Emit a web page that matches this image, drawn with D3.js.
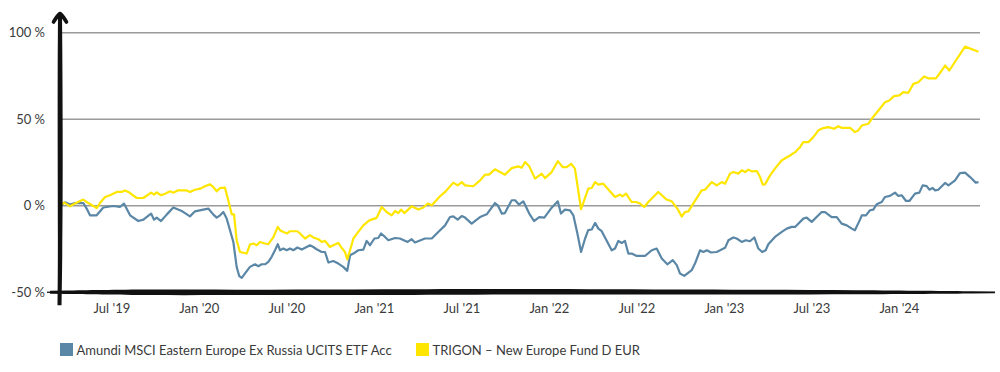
<!DOCTYPE html>
<html>
<head>
<meta charset="utf-8">
<script src="https://cdn.jsdelivr.net/npm/d3@7"></script>
<style>
  html, body { margin: 0; padding: 0; background: #fff; }
  svg { display: block; font-family: Lato, "Open Sans", sans-serif; }
</style>
</head>
<body>
<svg id="chart" width="1000" height="372"></svg>
<script>
// ---- data (time in decimal years, values in %) ----
const seriesNames = ["Amundi MSCI Eastern Europe Ex Russia UCITS ETF Acc", "TRIGON – New Europe Fund D EUR"];
const seriesColors = ["#5b87a7", "#ffe600"];

const yTickValues = [-50, 0, 50, 100];
const yTickLabels = ["-50 %", "0 %", "50 %", "100 %"];
const xTickValues = [2019.5, 2020, 2020.5, 2021, 2021.5, 2022, 2022.5, 2023, 2023.5, 2024];
const xTickLabels = ["Jul '19", "Jan '20", "Jul '20", "Jan '21", "Jul '21", "Jan '22", "Jul '22", "Jan '23", "Jul '23", "Jan '24"];

const blueTimes = [2019.215,2019.232,2019.261,2019.289,2019.337,2019.356,2019.375,2019.413,2019.451,2019.508,2019.546,2019.569,2019.604,2019.651,2019.680,2019.724,2019.741,2019.756,2019.781,2019.813,2019.851,2019.899,2019.918,2019.946,2019.975,2020.022,2020.051,2020.080,2020.099,2020.118,2020.137,2020.156,2020.175,2020.194,2020.213,2020.228,2020.242,2020.261,2020.289,2020.318,2020.337,2020.356,2020.375,2020.394,2020.413,2020.432,2020.448,2020.461,2020.480,2020.499,2020.518,2020.537,2020.560,2020.585,2020.613,2020.632,2020.651,2020.670,2020.699,2020.718,2020.737,2020.765,2020.794,2020.822,2020.845,2020.861,2020.880,2020.908,2020.937,2020.956,2020.975,2021.000,2021.022,2021.038,2021.061,2021.080,2021.118,2021.146,2021.190,2021.213,2021.232,2021.289,2021.328,2021.365,2021.404,2021.432,2021.451,2021.476,2021.499,2021.518,2021.556,2021.585,2021.604,2021.642,2021.666,2021.689,2021.705,2021.728,2021.746,2021.769,2021.785,2021.804,2021.826,2021.851,2021.885,2021.912,2021.942,2021.971,2022.009,2022.048,2022.066,2022.089,2022.118,2022.137,2022.160,2022.181,2022.204,2022.222,2022.242,2022.261,2022.280,2022.299,2022.356,2022.375,2022.394,2022.413,2022.432,2022.451,2022.470,2022.499,2022.546,2022.585,2022.613,2022.642,2022.674,2022.705,2022.728,2022.746,2022.771,2022.813,2022.832,2022.861,2022.880,2022.899,2022.924,2022.956,2023.004,2023.023,2023.051,2023.070,2023.099,2023.122,2023.146,2023.171,2023.194,2023.216,2023.236,2023.251,2023.289,2023.328,2023.356,2023.385,2023.404,2023.451,2023.470,2023.499,2023.556,2023.575,2023.613,2023.642,2023.670,2023.699,2023.728,2023.746,2023.775,2023.785,2023.809,2023.832,2023.851,2023.870,2023.899,2023.918,2023.946,2023.975,2023.994,2024.013,2024.038,2024.057,2024.089,2024.114,2024.133,2024.156,2024.171,2024.190,2024.204,2024.222,2024.261,2024.280,2024.318,2024.346,2024.375,2024.404,2024.436,2024.452];
const blueValues = [0.9,2.0,0.7,1.6,1.6,-1.6,-5.5,-5.5,-1.0,-0.1,-0.7,1.3,-5.5,-8.8,-8.0,-4.5,-8.0,-6.8,-8.8,-5.1,-1.0,-3.0,-4.2,-6.1,-3.2,-2.2,-1.6,-5.1,-6.8,-5.5,-3.6,-7.4,-14.1,-20.9,-35.3,-40.7,-41.7,-39.1,-35.3,-33.8,-34.9,-33.8,-33.8,-32.4,-29.5,-25.7,-22.2,-25.7,-24.7,-25.7,-24.7,-25.7,-24.1,-25.3,-23.8,-22.8,-23.8,-25.1,-26.7,-26.7,-32.8,-31.9,-33.4,-35.3,-37.6,-28.6,-27.6,-25.7,-25.3,-20.3,-22.8,-18.9,-18.6,-16.0,-18.0,-19.9,-18.6,-18.9,-20.9,-19.3,-21.2,-18.9,-18.9,-15.1,-11.3,-6.5,-6.1,-8.0,-5.9,-6.8,-10.3,-8.0,-6.5,-4.9,-1.6,1.6,0.3,-4.5,-4.2,0.3,3.2,3.2,0.7,2.6,-4.5,-8.8,-6.5,-6.8,-1.6,2.6,-4.5,-2.2,-2.6,-5.5,-16.0,-26.7,-18.9,-14.1,-13.7,-9.9,-13.2,-14.7,-25.7,-24.7,-20.3,-21.5,-20.3,-27.6,-27.6,-29.0,-29.0,-25.7,-24.7,-30.5,-33.8,-31.4,-34.3,-39.1,-40.5,-37.2,-33.4,-25.7,-26.7,-25.7,-27.0,-26.7,-24.3,-19.9,-18.3,-18.9,-20.9,-19.9,-20.5,-18.3,-24.7,-26.7,-25.7,-22.2,-18.0,-15.1,-13.2,-12.2,-12.2,-7.4,-6.8,-9.3,-3.6,-3.6,-6.5,-6.5,-10.3,-11.3,-13.2,-14.1,-8.0,-5.5,-5.5,-2.6,-2.2,0.9,2.2,5.1,5.7,7.6,5.7,6.1,2.8,2.8,7.0,7.6,11.8,11.4,9.3,10.3,8.9,9.3,13.2,11.8,14.7,18.9,19.2,16.6,13.4,13.7];

const yellowTimes = [2019.215,2019.228,2019.261,2019.289,2019.337,2019.365,2019.413,2019.432,2019.461,2019.489,2019.528,2019.556,2019.575,2019.594,2019.642,2019.680,2019.724,2019.741,2019.756,2019.781,2019.804,2019.832,2019.851,2019.876,2019.928,2019.946,2019.975,2020.004,2020.032,2020.061,2020.080,2020.099,2020.118,2020.146,2020.165,2020.185,2020.198,2020.213,2020.232,2020.270,2020.289,2020.308,2020.328,2020.346,2020.375,2020.394,2020.422,2020.448,2020.461,2020.480,2020.502,2020.518,2020.560,2020.575,2020.604,2020.632,2020.651,2020.680,2020.699,2020.718,2020.746,2020.765,2020.794,2020.813,2020.832,2020.845,2020.861,2020.880,2020.908,2020.937,2020.971,2021.013,2021.042,2021.070,2021.099,2021.118,2021.137,2021.152,2021.171,2021.213,2021.251,2021.280,2021.305,2021.328,2021.375,2021.404,2021.451,2021.476,2021.499,2021.518,2021.565,2021.604,2021.632,2021.655,2021.689,2021.746,2021.785,2021.822,2021.842,2021.861,2021.885,2021.918,2021.956,2021.975,2022.013,2022.048,2022.076,2022.099,2022.124,2022.146,2022.181,2022.222,2022.242,2022.261,2022.280,2022.308,2022.375,2022.404,2022.417,2022.438,2022.470,2022.495,2022.518,2022.542,2022.565,2022.622,2022.670,2022.699,2022.731,2022.756,2022.775,2022.794,2022.822,2022.870,2022.889,2022.928,2022.956,2022.985,2023.004,2023.032,2023.051,2023.080,2023.099,2023.118,2023.137,2023.156,2023.185,2023.204,2023.219,2023.232,2023.261,2023.289,2023.328,2023.375,2023.404,2023.432,2023.451,2023.480,2023.508,2023.537,2023.565,2023.594,2023.626,2023.651,2023.670,2023.718,2023.746,2023.765,2023.785,2023.822,2023.842,2023.880,2023.918,2023.942,2023.969,2024.000,2024.022,2024.051,2024.080,2024.108,2024.141,2024.165,2024.209,2024.242,2024.261,2024.285,2024.375,2024.452];
const yellowValues = [0.9,1.8,-0.3,1.3,3.6,1.6,-1.3,1.6,5.1,6.1,8.0,8.0,8.9,8.0,4.5,4.5,7.6,6.5,7.8,6.1,7.0,8.4,7.6,8.9,8.9,8.0,9.3,9.9,11.3,12.4,10.8,8.4,10.3,10.5,3.2,-4.9,-4.9,-19.9,-26.7,-27.6,-22.4,-21.8,-22.8,-20.9,-21.8,-22.2,-18.3,-12.2,-14.1,-15.1,-16.0,-14.7,-14.7,-16.0,-18.9,-17.0,-18.3,-19.3,-20.9,-20.3,-23.8,-22.8,-21.5,-24.3,-26.7,-31.0,-25.7,-18.9,-15.1,-11.3,-8.4,-7.0,-0.7,-3.6,-5.5,-3.0,-4.2,-2.2,-4.2,-0.3,-2.2,-1.0,1.3,0.3,5.5,8.0,13.4,11.8,13.7,11.8,11.3,14.7,18.0,18.0,21.1,18.0,21.8,22.8,22.0,25.3,22.8,15.7,18.6,16.0,19.5,25.8,22.4,22.4,24.3,21.5,-2.0,9.9,10.3,13.7,12.2,12.8,5.1,6.5,5.5,7.0,2.2,2.2,1.3,-0.7,2.2,8.0,3.6,2.6,-1.6,-6.2,-3.6,-3.2,1.3,8.9,9.3,13.7,11.8,13.7,12.8,18.6,19.5,18.6,20.5,19.5,20.9,19.9,20.1,16.6,12.2,12.4,17.6,21.5,26.3,29.1,31.0,33.9,36.8,36.8,39.7,43.6,44.9,45.5,44.5,46.0,45.1,45.1,42.6,43.6,46.4,47.4,50.3,55.1,59.9,60.9,63.4,63.8,65.7,65.3,70.5,71.4,74.7,73.7,73.7,78.2,81.1,78.2,92.0,89.1];

// ---- chart ----
const svg = d3.select("#chart");
const x = d3.scaleLinear().domain([2019.215, 2024.452]).range([62, 978.5]);
const y = d3.scaleLinear().domain([-50, 100]).range([292.3, 32.8]);

const textColor = "#3a3a3a";
const fontSize = 13;

// gridlines (except baseline, which is the brush axis)
svg.append("g").selectAll("line")
  .data(yTickValues.filter(v => v !== -50))
  .join("line")
  .attr("x1", 60).attr("x2", 980)
  .attr("y1", d => y(d)).attr("y2", d => y(d))
  .attr("stroke", "#9a9a9a").attr("stroke-width", 1.4);

// small tick at the -50 baseline label
svg.append("line")
  .attr("x1", 47).attr("x2", 60)
  .attr("y1", y(-50)).attr("y2", y(-50))
  .attr("stroke", "#222").attr("stroke-width", 1.4);

// y tick labels
svg.append("g").selectAll("text")
  .data(yTickValues)
  .join("text")
  .attr("x", 45).attr("y", d => y(d) + 4.5)
  .attr("text-anchor", "end")
  .attr("font-size", fontSize).attr("fill", textColor)
  .text((d, i) => yTickLabels[i]);

// x tick labels
svg.append("g").selectAll("text")
  .data(xTickValues)
  .join("text")
  .attr("x", d => x(d)).attr("y", 313)
  .attr("text-anchor", "middle")
  .attr("font-size", fontSize).attr("fill", textColor)
  .text((d, i) => xTickLabels[i]);

// series lines
const line = d3.line().x(d => x(d[0])).y(d => y(d[1]));
const blueData = blueTimes.map((t, i) => [t, blueValues[i]]);
const yellowData = yellowTimes.map((t, i) => [t, yellowValues[i]]);
[blueData, yellowData].forEach((data, i) => {
  svg.append("path").datum(data)
    .attr("d", line)
    .attr("fill", "none")
    .attr("stroke", seriesColors[i])
    .attr("stroke-width", 2.2)
    .attr("stroke-linejoin", "round");
});

// hand-drawn x axis (brush stroke)
const y0 = y(-50);
const brushTop = [[50, y0 - 1.5], [150, y0 - 3.2], [260, y0 - 2.4], [380, y0 - 3.0], [520, y0 - 3.6], [700, y0 - 2.6], [860, y0 - 2.2], [995, y0 - 0.8]];
const brushBot = [[995, y0 + 1.0], [860, y0 + 2.2], [700, y0 + 2.2], [520, y0 + 2.0], [380, y0 + 3.0], [260, y0 + 2.6], [150, y0 + 3.2], [50, y0 + 1.5]];
const curve = d3.line().curve(d3.curveBasis);
svg.append("path")
  .attr("d", curve(brushTop) + "L" + curve(brushBot).slice(1) + "Z")
  .attr("fill", "#111");

// hand-drawn y axis with arrow
const yAxisX = 60;
const yTop = 15, yBot = y0 + 13;
svg.append("path")
  .attr("d", `M${yAxisX - 2},${yTop} C${yAxisX - 3},120 ${yAxisX - 1.5},230 ${yAxisX - 2.5},${yBot} L${yAxisX + 1.5},${yBot} C${yAxisX + 3},230 ${yAxisX + 3},120 ${yAxisX + 2},${yTop} Z`)
  .attr("fill", "#111");
svg.append("path")
  .attr("d", `M${yAxisX - 6.5},${yTop + 7} Q${yAxisX - 3},${yTop + 1} ${yAxisX},${yTop - 1.5} Q${yAxisX + 3},${yTop + 1} ${yAxisX + 6.5},${yTop + 7}`)
  .attr("fill", "none").attr("stroke", "#111").attr("stroke-width", 3.6).attr("stroke-linecap", "round").attr("stroke-linejoin", "round");

// legend
const legend = svg.append("g");
const legendX = [60, 416];
seriesNames.forEach((name, i) => {
  const g = legend.append("g").attr("transform", `translate(${legendX[i]},343)`);
  g.append("rect").attr("width", 13).attr("height", 13).attr("fill", seriesColors[i]);
  g.append("text").attr("x", 16.5).attr("y", 11.5)
    .attr("font-size", fontSize).attr("fill", textColor).text(name);
});
</script>
</body>
</html>
